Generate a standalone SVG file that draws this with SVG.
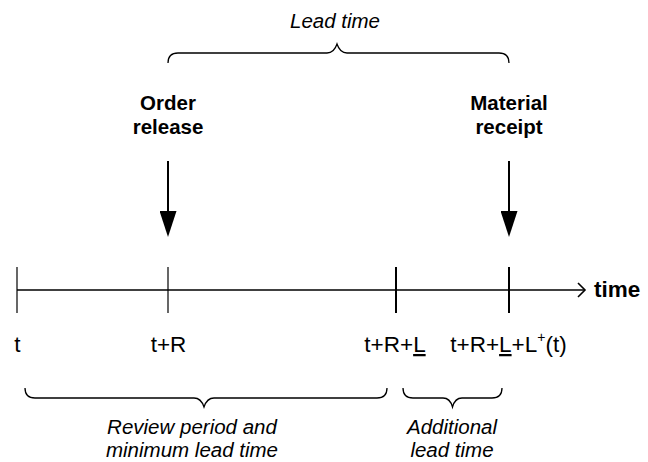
<svg xmlns="http://www.w3.org/2000/svg" width="648" height="462" viewBox="0 0 648 462">
  <style>
    text { font-family: "Liberation Sans", Arial, Helvetica, sans-serif; fill: #000; }
    .event { font-size: 20.5px; font-weight: bold; text-anchor: middle; }
    .span { font-size: 20.5px; font-style: italic; text-anchor: middle; }
    .mark { font-size: 22.5px; text-anchor: middle; }
    .axis-label { font-size: 22.5px; font-weight: bold; }
    .brace { fill: none; stroke: #000; stroke-width: 1.3; }
    .axis { stroke: #000; stroke-width: 1.6; fill: none; }
    .tick { stroke: #000; stroke-width: 1.2; }
    .tick-strong { stroke: #000; stroke-width: 2; }
    .shaft { stroke: #000; stroke-width: 2; }
  </style>
  <defs>
    <marker id="head" markerUnits="userSpaceOnUse" markerWidth="26" markerHeight="17" refX="0" refY="8.5" orient="auto" viewBox="0 0 26 17">
      <polygon points="0,0 26,8.5 0,17" fill="#000"/>
    </marker>
  </defs>

  <!-- lead time bracket -->
  <g id="lead-time">
    <text class="span" x="335" y="28">Lead time</text>
    <path class="brace" d="M168,63 Q168,53 178,53 L327,53 Q334,53 337,44 Q340,53 347,53 L499,53 Q509,53 509,63"/>
  </g>

  <!-- events -->
  <g id="order-release">
    <text class="event" x="168" y="110">Order</text>
    <text class="event" x="168" y="134">release</text>
  </g>
  <g id="material-receipt">
    <text class="event" x="509" y="110">Material</text>
    <text class="event" x="509" y="134">receipt</text>
  </g>

  <!-- time axis with ticks -->
  <g id="timeline">
    <line class="axis" x1="17" y1="290" x2="584" y2="290"/>
    <polyline class="axis" points="578,283 585,290 578,297"/>
    <line class="tick" x1="17" y1="267" x2="17" y2="313"/>
    <line class="tick" x1="168" y1="267" x2="168" y2="313"/>
    <line class="tick-strong" x1="396" y1="267" x2="396" y2="313"/>
    <line class="tick-strong" x1="509" y1="267" x2="509" y2="313"/>
    <text class="axis-label" x="594" y="297">time</text>
  </g>

  <!-- tick labels -->
  <g id="tick-labels">
    <text class="mark" x="17.5" y="352">t</text>
    <text class="mark" x="168.5" y="352">t+R</text>
    <text class="mark" x="395" y="352">t+R+<tspan text-decoration="underline">L</tspan></text>
    <text class="mark" x="508.5" y="352">t+R+<tspan text-decoration="underline">L</tspan>+L<tspan font-size="14" dy="-10">+</tspan><tspan dy="10">(t)</tspan></text>
  </g>

  <!-- review period bracket -->
  <g id="review-period">
    <path class="brace" d="M25,388 Q25,398 35,398 L194,398 Q201,398 204,407 Q207,398 214,398 L377,398 Q387,398 387,388"/>
    <text class="span" x="192" y="434">Review period and</text>
    <text class="span" x="192" y="457">minimum lead time</text>
  </g>

  <!-- additional lead time bracket -->
  <g id="additional-lead-time">
    <path class="brace" d="M403,388 Q403,398 413,398 L443,398 Q450,398 452.5,407 Q455,398 462,398 L492,398 Q502,398 502,388"/>
    <text class="span" x="452" y="434">Additional</text>
    <text class="span" x="452" y="457">lead time</text>
  </g>

  <!-- event arrows -->
  <g id="connectors">
    <line class="shaft" x1="168" y1="161" x2="168" y2="211" marker-end="url(#head)"/>
    <line class="shaft" x1="509" y1="161" x2="509" y2="211" marker-end="url(#head)"/>
  </g>
</svg>
